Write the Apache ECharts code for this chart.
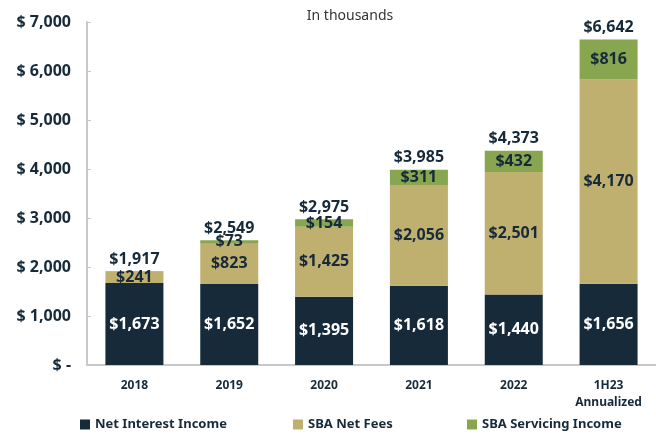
<!DOCTYPE html>
<html>
<head>
<meta charset="utf-8">
<script src="https://cdn.jsdelivr.net/npm/echarts@6/dist/echarts.min.js"></script>
<style>
  html, body { margin: 0; padding: 0; background: #fff; }
  #chart { width: 656px; height: 436px; }
</style>
</head>
<body>
<div id="chart"></div>
<script>
// 数据
var categories = ['2018', '2019', '2020', '2021', '2022', '1H23\nAnnualized'];
var netInterest = [1673, 1652, 1395, 1618, 1440, 1656];
var sbaNetFees = [241, 823, 1425, 2056, 2501, 4170];
var sbaServicing = [3, 73, 154, 311, 432, 816];
var totals = [1917, 2549, 2975, 3985, 4373, 6642];
var yTicks = [0, 1000, 2000, 3000, 4000, 5000, 6000, 7000];

var navy = '#172a3a';
var tan = '#bfb06f';
var green = '#88a54f';
var font = 'Noto Sans';

function money(v) {
    return '$' + v.toLocaleString('en-US');
}

var myChart = echarts.init(document.getElementById('chart'));

function legendAt(name, left) {
    return {
        data: [name],
        left: left,
        top: 418,
        padding: 0,
        itemWidth: 10,
        itemHeight: 10,
        icon: 'rect',
        itemGap: 4,
        textStyle: { color: navy, fontWeight: 'bold', fontSize: 13, fontFamily: font }
    };
}

var option = {
    animation: false,
    title: {
        text: 'In thousands',
        left: 345,
        textAlign: 'center',
        top: 4,
        textStyle: { color: '#333', fontWeight: 'normal', fontSize: 14, fontFamily: font }
    },
    legend: [
        legendAt('Net Interest Income', 80),
        legendAt('SBA Net Fees', 293),
        legendAt('SBA Servicing Income', 467)
    ],
    grid: { left: 87, right: -11, top: 22, bottom: 71 },
    xAxis: {
        type: 'category',
        data: categories,
        axisLine: { lineStyle: { color: '#c8c8c8', width: 2 } },
        axisTick: { inside: true, length: 5, lineStyle: { color: '#c8c8c8' } },
        axisLabel: {
            color: navy, fontWeight: 'bold', fontSize: 12, fontFamily: font,
            margin: 12, lineHeight: 17
        }
    },
    yAxis: {
        type: 'value',
        min: 0,
        max: 7000,
        interval: 1000,
        splitLine: { show: false },
        axisLine: { show: true, lineStyle: { color: '#c8c8c8', width: 2 } },
        axisTick: { show: true, inside: true, length: 4, lineStyle: { color: '#c8c8c8' } },
        axisLabel: {
            color: navy, fontWeight: 'bold', fontSize: 16, fontFamily: font, margin: 16,
            formatter: function (v) {
                return yTicks.indexOf(v) === 0 ? '$ -' : '$ ' + v.toLocaleString('en-US');
            }
        }
    },
    series: [
        {
            name: 'Net Interest Income',
            type: 'bar',
            stack: 'total',
            barWidth: 58,
            data: netInterest,
            itemStyle: { color: navy },
            label: {
                show: true, position: 'inside', color: '#fff', fontWeight: 'bold',
                fontSize: 16, fontFamily: font,
                formatter: function (p) { return money(p.value); }
            }
        },
        {
            name: 'SBA Net Fees',
            type: 'bar',
            stack: 'total',
            data: sbaNetFees,
            itemStyle: { color: tan },
            label: {
                show: true, position: 'inside', color: navy, fontWeight: 'bold',
                fontSize: 16, fontFamily: font,
                formatter: function (p) { return money(p.value); }
            }
        },
        {
            name: 'SBA Servicing Income',
            type: 'bar',
            stack: 'total',
            data: sbaServicing,
            itemStyle: { color: green },
            label: {
                show: true, position: 'inside', color: navy, fontWeight: 'bold',
                fontSize: 16, fontFamily: font,
                formatter: function (p) { return p.value < 10 ? '' : money(p.value); }
            }
        },
        {
            name: 'Total',
            type: 'bar',
            barGap: '-100%',
            barWidth: 58,
            data: totals,
            silent: true,
            z: 0,
            itemStyle: { color: 'rgba(0,0,0,0)' },
            label: {
                show: true, position: 'top', distance: 4, color: navy, fontWeight: 'bold',
                fontSize: 16, fontFamily: font,
                formatter: function (p) { return money(p.value); }
            }
        }
    ]
};

myChart.setOption(option);
</script>
</body>
</html>
